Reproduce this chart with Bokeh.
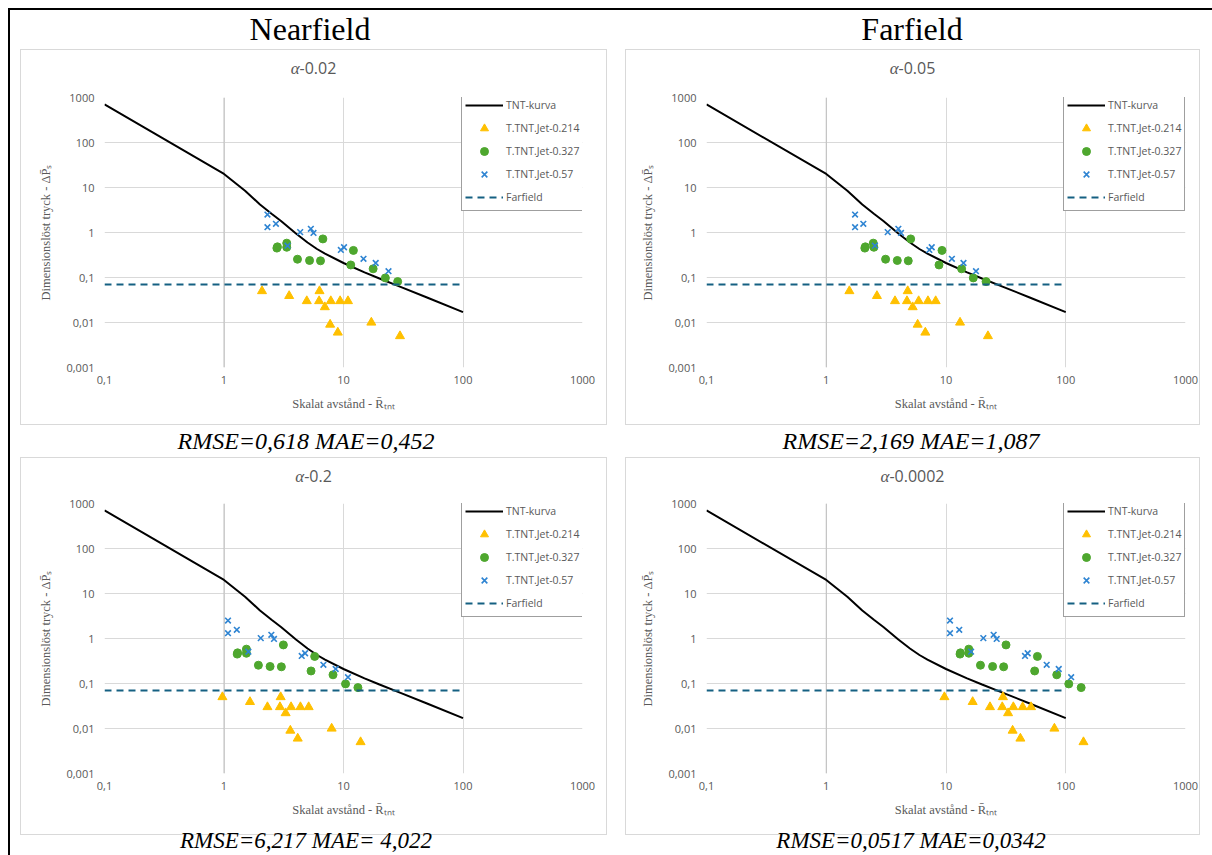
from bokeh.plotting import figure
from bokeh.layouts import column, row
from bokeh.models import Div, Spacer, FixedTicker, Span
from bokeh.embed import file_html
from bokeh.resources import INLINE

# ---------------- data ----------------
headers = ["Nearfield", "Farfield"]
panel_titles = ["α-0.02", "α-0.05", "α-0.2", "α-0.0002"]
captions = ["RMSE=0,618 MAE=0,452", "RMSE=2,169 MAE=1,087",
            "RMSE=6,217 MAE= 4,022", "RMSE=0,0517 MAE=0,0342"]
series_names = ["TNT-kurva", "T.TNT.Jet-0.214", "T.TNT.Jet-0.327", "T.TNT.Jet-0.57", "Farfield"]
x_axis_title = "Skalat avstånd - R\u0304\u209c\u2099\u209c"
y_axis_title = "Dimensionslöst tryck - ΔP\u0304\u209b"

x_ticks = [0.1, 1, 10, 100, 1000]
x_tick_labels = ["0,1", "1", "10", "100", "1000"]
y_ticks = [0.001, 0.01, 0.1, 1, 10, 100, 1000]
y_tick_labels = ["0,001", "0,01", "0,1", "1", "10", "100", "1000"]
axis_cross_x = 1

tnt_x = [0.1, 1, 1.5, 2, 2.5, 3, 4, 5, 6, 7, 10, 15, 20, 30, 50, 100]
tnt_y = [700, 20, 8.5, 4.2, 2.6, 1.8, 0.95, 0.6, 0.43, 0.34, 0.21, 0.13, 0.095, 0.062, 0.036, 0.017]
farfield_x = [0.1, 100]
farfield_y = [0.07, 0.07]

jet214_y = [0.05, 0.039, 0.03, 0.05, 0.03, 0.022, 0.03, 0.03, 0.03, 0.009, 0.006, 0.010, 0.005]
jet327_y = [0.45, 0.48, 0.58, 0.47, 0.255, 0.239, 0.235, 0.72, 0.19, 0.40, 0.156, 0.098, 0.081]
jet057_y = [2.5, 1.31, 1.56, 0.51, 1.02, 1.21, 0.98, 0.41, 0.47, 0.26, 0.21, 0.138]

# alpha 0.02
jet214_x_a002 = [2.08, 3.51, 4.93, 6.3, 6.25, 6.98, 7.83, 9.37, 10.9, 7.73, 8.96, 17.1, 29.7]
jet327_x_a002 = [2.77, 2.8, 3.35, 3.35, 4.12, 5.2, 6.42, 6.72, 11.5, 12.1, 17.7, 22.4, 28.4]
jet057_x_a002 = [2.31, 2.31, 2.72, 3.40, 4.34, 5.33, 5.61, 9.5, 10.1, 14.7, 18.6, 23.8]
# alpha 0.05
jet214_x_a005 = [1.56, 2.65, 3.75, 4.79, 4.72, 5.27, 5.91, 7.07, 8.2, 5.8, 6.72, 13.1, 22.4]
jet327_x_a005 = [2.1, 2.12, 2.47, 2.5, 3.13, 3.92, 4.84, 5.07, 8.74, 9.26, 13.5, 16.9, 21.6]
jet057_x_a005 = [1.74, 1.74, 2.04, 2.55, 3.26, 4.0, 4.21, 7.26, 7.6, 11.2, 14.0, 17.8]
# alpha 0.2
jet214_x_a02 = [0.97, 1.65, 2.31, 2.98, 2.94, 3.28, 3.64, 4.36, 5.11, 3.59, 4.14, 7.96, 13.9]
jet327_x_a02 = [1.29, 1.3, 1.54, 1.54, 1.94, 2.43, 3.02, 3.14, 5.35, 5.74, 8.17, 10.4, 13.2]
jet057_x_a02 = [1.08, 1.08, 1.28, 1.6, 2.03, 2.49, 2.62, 4.47, 4.77, 6.79, 8.6, 10.9]
# alpha 0.0002
jet214_x_a00002 = [9.7, 16.7, 23.3, 29.9, 29.5, 33.0, 36.5, 43.7, 51.3, 36.0, 41.8, 80.4, 140.6]
jet327_x_a00002 = [13.1, 13.2, 15.5, 15.5, 19.4, 24.5, 30.3, 31.7, 55.0, 58.0, 84.1, 106, 134.5]
jet057_x_a00002 = [10.8, 10.8, 12.9, 16.2, 20.5, 25.0, 26.5, 45.7, 48.1, 69.3, 87.4, 111]

# ---------------- styles ----------------
GRAY_TEXT = "#595959"
PANEL_LINE = "#d9d9d9"
C_TNT = "#000000"
C_214 = "#FFC000"
C_327 = "#4EA72E"
C_057 = "#2E84D2"
C_FAR = "#156082"


def bar(w, h, color):
    return Spacer(width=w, height=h, styles={"background-color": color})


def text_div(html, w, h, css):
    return Div(text=f'<div style="width:{w}px;{css}">{html}</div>',
               width=w, height=h, margin=0, styles={"overflow": "visible"})


def make_fig(w, h, bl, br, bt, bb, x214, x327, x057):
    p = figure(width=w, height=h, x_axis_type="log", y_axis_type="log",
               x_range=(x_ticks[0], x_ticks[-1]), y_range=(y_ticks[0], y_ticks[-1]),
               min_border_left=bl, min_border_right=br, min_border_top=bt, min_border_bottom=bb,
               output_backend="svg", toolbar_location=None)
    p.outline_line_color = None
    p.background_fill_color = "white"
    p.border_fill_color = "white"
    p.grid.grid_line_color = PANEL_LINE
    p.grid.grid_line_width = 1
    p.add_layout(Span(location=axis_cross_x, dimension="height", line_color="#bfbfbf",
                      line_width=1, level="underlay"))

    p.line(tnt_x, tnt_y, line_color=C_TNT, line_width=2, legend_label=series_names[0])
    p.scatter(x214, jet214_y, marker="triangle", size=9, fill_color=C_214, line_color=C_214,
              legend_label=series_names[1])
    p.scatter(x327, jet327_y, marker="circle", size=8, fill_color=C_327, line_color=C_327,
              legend_label=series_names[2])
    p.scatter(x057, jet057_y, marker="x", size=8, line_color=C_057, line_width=1.6,
              legend_label=series_names[3])
    p.line(farfield_x, farfield_y, line_color=C_FAR, line_width=2, line_dash="7 5",
           legend_label=series_names[4])

    p.xaxis.ticker = FixedTicker(ticks=x_ticks)
    p.yaxis.ticker = FixedTicker(ticks=y_ticks)
    p.xaxis.major_label_overrides = dict(zip(x_ticks, x_tick_labels))
    p.yaxis.major_label_overrides = dict(zip(y_ticks, y_tick_labels))
    for ax in (p.xaxis, p.yaxis):
        ax.axis_line_color = None
        ax.major_tick_line_color = None
        ax.minor_tick_line_color = None
        ax.major_tick_out = 0
        ax.major_tick_in = 0
        ax.minor_tick_out = 0
        ax.minor_tick_in = 0
        ax.major_label_text_font = "Open Sans"
        ax.major_label_text_font_size = "11px"
        ax.major_label_text_color = GRAY_TEXT
        ax.axis_label_text_font = "Liberation Serif"
        ax.axis_label_text_font_size = "12.5px"
        ax.axis_label_text_font_style = "normal"
        ax.axis_label_text_color = GRAY_TEXT
    p.xaxis.axis_label = x_axis_title
    p.yaxis.axis_label = y_axis_title
    p.xaxis.major_label_standoff = 8
    p.xaxis.axis_label_standoff = 10
    p.yaxis.major_label_standoff = 10
    p.yaxis.axis_label_standoff = 10

    lg = p.legend[0]
    lg.location = (357, 156)
    lg.margin = 0
    lg.padding = 3
    lg.spacing = 3
    lg.label_height = 20
    lg.glyph_height = 20
    lg.glyph_width = 38
    lg.label_standoff = 3
    lg.border_line_color = "#404040"
    lg.border_line_width = 1.5
    lg.background_fill_color = "white"
    lg.background_fill_alpha = 1
    lg.label_text_font = "Open Sans"
    lg.label_text_font_size = "10.5px"
    lg.label_text_color = GRAY_TEXT
    return p


def title_div(t, w):
    html = t.replace("α", '<span style="font-family:\'Liberation Serif\';font-style:italic;font-size:17px">α</span>')
    return text_div(html, w, 36,
                    f"height:36px;line-height:36px;text-align:center;font-family:'Open Sans';"
                    f"font-size:16px;color:{GRAY_TEXT};")


def panel(fig, title, w, h):
    inner = column(title_div(title, w - 2), fig)
    return column(bar(w, 1, PANEL_LINE),
                  row(bar(1, h - 2, PANEL_LINE), inner, bar(1, h - 2, PANEL_LINE)),
                  bar(w, 1, PANEL_LINE))


fig_tl = make_fig(585, 338, 83, 24, 11, 57, jet214_x_a002, jet327_x_a002, jet057_x_a002)
fig_tr = make_fig(573, 338, 80, 14, 11, 57, jet214_x_a005, jet327_x_a005, jet057_x_a005)
fig_bl = make_fig(585, 340, 83, 24, 9, 61, jet214_x_a02, jet327_x_a02, jet057_x_a02)
fig_br = make_fig(573, 340, 80, 14, 9, 61, jet214_x_a00002, jet327_x_a00002, jet057_x_a00002)

head_css = "line-height:39px;text-align:center;font-family:'Liberation Serif';font-size:32px;color:#000;"
header_row = row(text_div(headers[0], 600, 39, head_css), Spacer(width=10, height=39),
                 text_div(headers[1], 584, 39, head_css))

top_row = row(Spacer(width=10, height=376), panel(fig_tl, panel_titles[0], 587, 376),
              Spacer(width=18, height=376), panel(fig_tr, panel_titles[1], 575, 376))
bottom_row = row(Spacer(width=10, height=378), panel(fig_bl, panel_titles[2], 587, 378),
                 Spacer(width=18, height=378), panel(fig_br, panel_titles[3], 575, 378))

cap_css1 = "line-height:32px;text-align:center;font-family:'Liberation Serif';font-style:italic;font-size:24px;color:#000;"
cap_row1 = row(text_div(captions[0], 592, 32, cap_css1), Spacer(width=18, height=32),
               text_div(captions[1], 582, 32, cap_css1))
cap_css2 = "line-height:12px;text-align:center;font-family:'Liberation Serif';font-style:italic;font-size:23px;color:#000;"
cap_row2 = row(text_div(captions[2], 592, 12, cap_css2), Spacer(width=18, height=12),
               text_div(captions[3], 582, 12, cap_css2))

inner = column(header_row, top_row, cap_row1, bottom_row, cap_row2)
framed = column(bar(1204, 2, "#000000"), row(bar(2, 845, "#000000"), inner))
root = column(Spacer(width=1212, height=8), row(Spacer(width=8, height=847), framed))

open("out.html", "w").write(file_html(root, INLINE))
